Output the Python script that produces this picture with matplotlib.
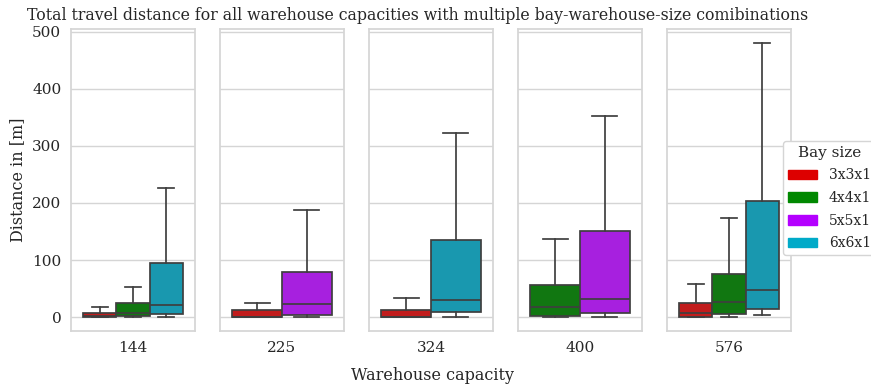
import colorsys
import matplotlib
matplotlib.use("Agg")
import matplotlib.pyplot as plt
import matplotlib.colors as mcolors
from matplotlib.patches import Patch

plt.rcParams["font.family"] = ["DejaVu Serif"]

# Warehouse capacities (one panel each) and bay sizes (hue)
capacities = ["144", "225", "324", "400", "576"]
bay_sizes = ["3x3x1", "4x4x1", "5x5x1", "6x6x1"]
bay_colors = ["#dd0000", "#008800", "#b400ff", "#00aac8"]

# Bay sizes present for each capacity
present = [
    ["3x3x1", "4x4x1", "6x6x1"],
    ["3x3x1", "5x5x1"],
    ["3x3x1", "6x6x1"],
    ["4x4x1", "5x5x1"],
    ["3x3x1", "4x4x1", "6x6x1"],
]

# Box statistics of travel distance [m], per capacity and bay size
whis_lo = [[0.0, 0.0, 0.0], [0.0, 0.3], [0.0, 1.0], [0.3, 0.3], [0.0, 0.0, 4.7]]
q1 = [[0.0, 1.8, 5.8], [0.0, 4.6], [0.0, 9.3], [3.0, 7.0], [1.2, 5.8, 14.5]]
median = [[1.5, 7.6, 21.5], [1.0, 22.6], [0.5, 30.2], [18.0, 31.8], [8.2, 26.0, 47.0]]
q3 = [[7.6, 24.3, 94.4], [12.2, 79.3], [13.4, 135.0], [55.6, 151.0], [24.3, 75.9, 203.0]]
whis_hi = [[18.6, 53.8, 226.0], [24.3, 187.0], [33.0, 322.0], [136.6, 352.0], [58.0, 173.6, 480.4]]


def desaturate(color, prop=0.75):
    r, g, b = mcolors.to_rgb(color)
    h, l, s = colorsys.rgb_to_hls(r, g, b)
    return colorsys.hls_to_rgb(h, l, s * prop)


W, H = 871, 388
fig = plt.figure(figsize=(W / 100, H / 100), dpi=100)

edge = "#3f3f3f"
grid_c = "#d5d5d5"
spine_c = "#d5d5d5"
text_c = "#262626"

ax_left0, ax_step, ax_w = 71, 149, 124
ax_top, ax_bot = 29, 331

axes = []
for i, cap in enumerate(capacities):
    ax = fig.add_axes([(ax_left0 + ax_step * i) / W, (H - ax_bot) / H,
                       ax_w / W, (ax_bot - ax_top) / H],
                      sharey=axes[0] if axes else None)
    axes.append(ax)
    n = len(present[i])
    bw = 0.8 / n
    stats, pos = [], []
    for j, bay in enumerate(present[i]):
        stats.append(dict(med=median[i][j], q1=q1[i][j], q3=q3[i][j],
                          whislo=whis_lo[i][j], whishi=whis_hi[i][j], fliers=[]))
        pos.append(-0.4 + (j + 0.5) * bw)
    lw = 1.25
    bp = ax.bxp(stats, positions=pos, widths=bw, capwidths=[bw / 2] * n,
                patch_artist=True, showfliers=False,
                boxprops=dict(edgecolor=edge, linewidth=lw),
                medianprops=dict(color=edge, linewidth=lw),
                whiskerprops=dict(color=edge, linewidth=lw),
                capprops=dict(color=edge, linewidth=lw))
    for patch, bay in zip(bp["boxes"], present[i]):
        patch.set_facecolor(desaturate(bay_colors[bay_sizes.index(bay)]))
    ax.set_xlim(-0.5, 0.5)
    ax.set_xticks([0])
    ax.set_xticklabels([cap])
    ax.set_facecolor("white")
    ax.set_axisbelow(True)
    ax.yaxis.grid(True, color=grid_c, linewidth=1)
    ax.xaxis.grid(False)
    for s in ax.spines.values():
        s.set_color(spine_c)
        s.set_linewidth(1.25)
    ax.tick_params(axis="both", length=0, labelsize=11, labelcolor=text_c, pad=7)
    if i > 0:
        ax.tick_params(axis="y", labelleft=False)

axes[0].set_yticks([0, 100, 200, 300, 400, 500])

fig.text(18 / W, 1 - 180 / H, "Distance in [m]", rotation=90, ha="center",
         va="center", fontsize=11.5, color=text_c)
fig.text(432 / W, 1 - 376 / H, "Warehouse capacity", ha="center", va="center",
         fontsize=11.5, color=text_c)
fig.text(418 / W, 1 - 16 / H,
         "Total travel distance for all warehouse capacities with multiple bay-warehouse-size comibinations",
         ha="center", va="center", fontsize=11.3, color=text_c)

handles = [Patch(facecolor=c, edgecolor=c, label=b) for b, c in zip(bay_sizes, bay_colors)]
leg = fig.legend(handles=handles, title="Bay size", loc="upper left",
                 bbox_to_anchor=(783 / W, 1 - 141 / H), borderaxespad=0,
                 fontsize=10, title_fontsize=11, frameon=True, framealpha=1,
                 edgecolor="#d5d5d5", fancybox=True, borderpad=0.35,
                 handlelength=2.1, handletextpad=0.85, labelspacing=0.62)
for t in leg.get_texts():
    t.set_color(text_c)
leg.get_title().set_color(text_c)

fig.savefig("out.png", dpi=100)
